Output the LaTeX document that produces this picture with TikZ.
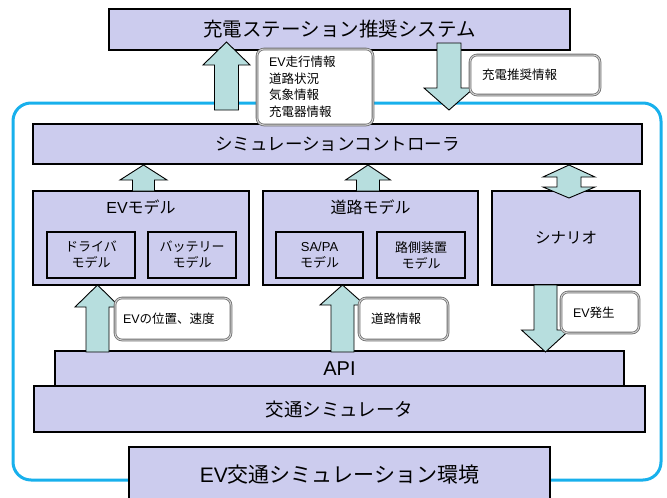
\documentclass[tikz,border=0pt]{standalone}
\usepackage{fontspec}
\setmainfont{Noto Sans CJK JP}
\newfontfamily\lat{Liberation Sans}
\definecolor{lav}{RGB}{204,204,238}
\definecolor{arrfill}{RGB}{183,222,222}
\definecolor{skyb}{RGB}{24,176,236}
\definecolor{labline}{RGB}{110,110,110}
\newcommand\blkarrow[6]{% cx, tip, base, tail, headhalf, shafthalf
  \draw[blkarr] (#1-#6,#4) -- (#1-#6,#3) -- (#1-#5,#3) -- (#1,#2) -- (#1+#5,#3) -- (#1+#6,#3) -- (#1+#6,#4) -- cycle;}
\newcommand\blkboth[7]{% cx, toptip, base1, base2, bottip, headhalf, shafthalf
  \draw[blkarr] (#1,#2) -- (#1+#6,#3) -- (#1+#7,#3) -- (#1+#7,#4) -- (#1+#6,#4) -- (#1,#5) -- (#1-#6,#4) -- (#1-#7,#4) -- (#1-#7,#3) -- (#1-#6,#3) -- cycle;}
\tikzset{
  box/.style={draw=black, fill=lav, line width=1.1pt, inner sep=0pt},
  subbox/.style={box, font=\fontsize{13}{16}\selectfont, align=center},
  blkarr/.style={draw=black, fill=arrfill, line width=0.9pt, line join=miter},
  labbox/.style={draw=labline, line width=0.8pt, double=black!18, double distance=1pt, fill=white, rounded corners=7pt,
     font=\fontsize{12.5}{16.5}\selectfont, align=left, inner ysep=0pt, inner xsep=12pt},
}
\begin{document}
\begin{tikzpicture}[x=1pt,y=-1pt]
\useasboundingbox (0,0) rectangle (667,498);
\clip (0,0) rectangle (667,498);
% environment frame
\draw[skyb, line width=3pt, rounded corners=18pt] (13,103) rectangle (661,480);
% boxes
\node[box, minimum width=461pt, minimum height=41pt, font=\fontsize{19.5}{22}\selectfont] (sys) at (339.5,29.5) {充電ステーション推奨システム};
\node[box, minimum width=609pt, minimum height=40pt, font=\fontsize{17.5}{20}\selectfont] (ctrl) at (337.5,144) {シミュレーションコントローラ};
\node[box, minimum width=216pt, minimum height=94pt] (evm) at (141,238) {};
\node[font=\fontsize{16}{18}\selectfont] (evmt) at (141,207) {{\lat EV}モデル};
\node[subbox, minimum width=88pt, minimum height=46pt] (drv) at (91,255) {ドライバ\\モデル};
\node[subbox, minimum width=88pt, minimum height=46pt] (bat) at (192,255) {バッテリー\\モデル};
\node[box, minimum width=215pt, minimum height=94pt] (road) at (370.5,238) {};
\node[font=\fontsize{16}{18}\selectfont] (roadt) at (370.5,207) {道路モデル};
\node[subbox, minimum width=87pt, minimum height=46pt] (sapa) at (319.5,255) {{\lat SA/PA}\\モデル};
\node[subbox, minimum width=88pt, minimum height=46pt] (rsu) at (421,255) {路側装置\\モデル};
\node[box, minimum width=148pt, minimum height=94pt, font=\fontsize{15.5}{18}\selectfont] (scen) at (566,238) {シナリオ};
\node[box, minimum width=569pt, minimum height=35pt, font=\fontsize{20}{22}\selectfont\lat] (api) at (339.5,368.5) {API};
\node[box, minimum width=611pt, minimum height=46pt, font=\fontsize{18.5}{22}\selectfont] (traf) at (339.5,409) {交通シミュレータ};
\node[box, minimum width=421pt, minimum height=56pt, font=\fontsize{21}{24}\selectfont] (env) at (339.5,475) {{\lat EV}交通シミュレーション環境};
% block arrows
\blkarrow{226.5}{42}{65}{110}{23.5}{12}
\blkarrow{449}{110}{88}{43}{25}{12}
\blkarrow{143.5}{165}{180}{191}{23.5}{11}
\blkarrow{368}{165}{180}{191}{22.5}{11.5}
\blkboth{569}{165}{177}{187}{198}{26}{12}
\blkarrow{97.5}{285}{307}{352}{22.5}{11.5}
\blkarrow{342.5}{285}{305}{352}{22.5}{11.5}
\blkarrow{545.5}{352}{330}{285}{24}{11.5}
% labels
\node[labbox, text width=92pt, minimum height=76pt] (l1) at (315,87) {{\lat EV}走行情報\\道路状況\\気象情報\\充電器情報};
\node[labbox, text width=106pt, minimum height=40pt] (l2) at (535,75) {充電推奨情報};
\node[labbox, inner xsep=8pt, text width=100pt, minimum height=42pt] (l3) at (173,319) {{\lat EV}の位置、速度};
\node[labbox, text width=65pt, minimum height=42pt] (l4) at (403.5,319) {道路情報};
\node[labbox, text width=54pt, minimum height=41pt] (l5) at (600,312.5) {{\lat EV}発生};
\end{tikzpicture}
\end{document}
